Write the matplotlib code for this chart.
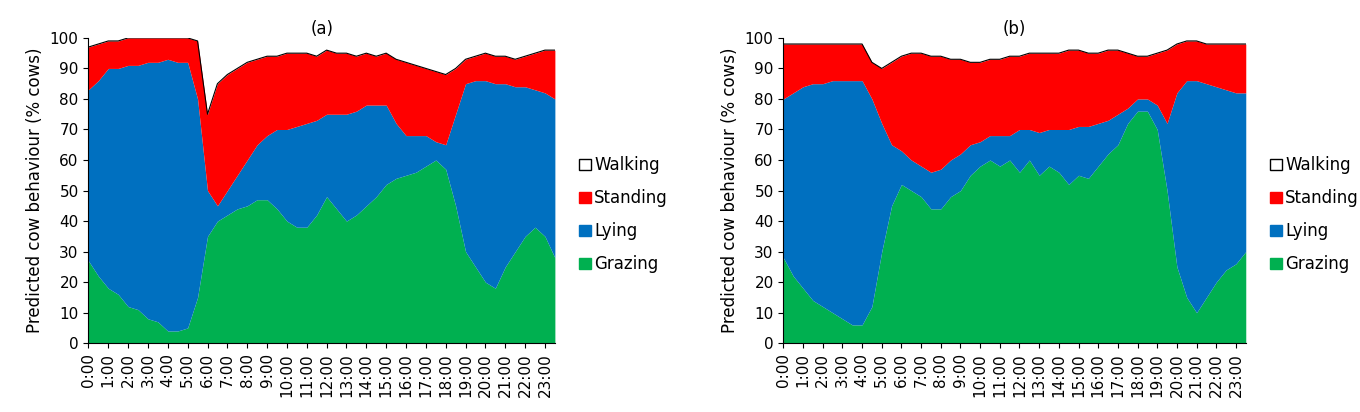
import matplotlib
matplotlib.use("Agg")
import matplotlib.pyplot as plt
import matplotlib.patches as mpatches
import numpy as np

times = [f"{h}:{m:02d}" for h in range(24) for m in (0, 30)]
hour_labels = [f"{h}:00" for h in range(24)]

# Panel (a): cumulative boundaries (% cows), half-hourly
a_grazing_top = [27,22,18,16,12,11,8,7,4,4,5,15,35,40,42,44,45,47,47,44,40,38,38,42,
                 48,44,40,42,45,48,52,54,55,56,58,60,57,45,30,25,20,18,25,30,35,38,35,28]
a_lying_top = [83,86,90,90,91,91,92,92,93,92,92,80,50,45,50,55,60,65,68,70,70,71,72,73,
               75,75,75,76,78,78,78,72,68,68,68,66,65,75,85,86,86,85,85,84,84,83,82,80]
a_standing_top = [97,98,99,99,100,100,100,100,100,100,100,99,75,85,88,90,92,93,94,94,95,95,95,94,
                  96,95,95,94,95,94,95,93,92,91,90,89,88,90,93,94,95,94,94,93,94,95,96,96]

# Panel (b)
b_grazing_top = [28,22,18,14,12,10,8,6,6,12,30,45,52,50,48,44,44,48,50,55,58,60,58,60,
                 56,60,55,58,56,52,55,54,58,62,65,72,76,76,70,50,25,15,10,15,20,24,26,30]
b_lying_top = [80,82,84,85,85,86,86,86,86,80,72,65,63,60,58,56,57,60,62,65,66,68,68,68,
               70,70,69,70,70,70,71,71,72,73,75,77,80,80,78,72,82,86,86,85,84,83,82,82]
b_standing_top = [98,98,98,98,98,98,98,98,98,92,90,92,94,95,95,94,94,93,93,92,92,93,93,94,
                  94,95,95,95,95,96,96,95,95,96,96,95,94,94,95,96,98,99,99,98,98,98,98,98]

GREEN, BLUE, RED = "#00b050", "#0070c0", "#ff0000"

fig = plt.figure(figsize=(13.6, 4.12), dpi=100)
axes_pos = [[0.065, 0.167, 0.343, 0.741], [0.576, 0.167, 0.340, 0.741]]
panels = [("(a)", a_grazing_top, a_lying_top, a_standing_top),
          ("(b)", b_grazing_top, b_lying_top, b_standing_top)]

for pos, (title, g, l, s) in zip(axes_pos, panels):
    ax = fig.add_axes(pos)
    x = np.arange(len(times))
    ax.fill_between(x, 0, g, color=GREEN, lw=0)
    ax.fill_between(x, g, l, color=BLUE, lw=0)
    ax.fill_between(x, l, s, color=RED, lw=0)
    ax.plot(x, s, color="black", lw=0.8)
    ax.set_xlim(0, len(times) - 1)
    ax.set_ylim(0, 100)
    ax.set_yticks(range(0, 101, 10))
    ax.set_xticks(x[::2])
    ax.set_xticklabels(hour_labels, rotation=90)
    ax.tick_params(labelsize=11)
    ax.set_ylabel("Predicted cow behaviour (% cows)", fontsize=12)
    ax.set_title(title, fontsize=12, pad=3)
    for sp in ["top", "right"]:
        ax.spines[sp].set_visible(False)
    handles = [mpatches.Patch(facecolor="white", edgecolor="black", label="Walking"),
               mpatches.Patch(color=RED, label="Standing"),
               mpatches.Patch(color=BLUE, label="Lying"),
               mpatches.Patch(color=GREEN, label="Grazing")]
    ax.legend(handles=handles, loc="center left", bbox_to_anchor=(1.02, 0.42),
              frameon=False, fontsize=12, handlelength=0.7, handleheight=0.7,
              handletextpad=0.2, labelspacing=0.9)

fig.savefig("out.png")
